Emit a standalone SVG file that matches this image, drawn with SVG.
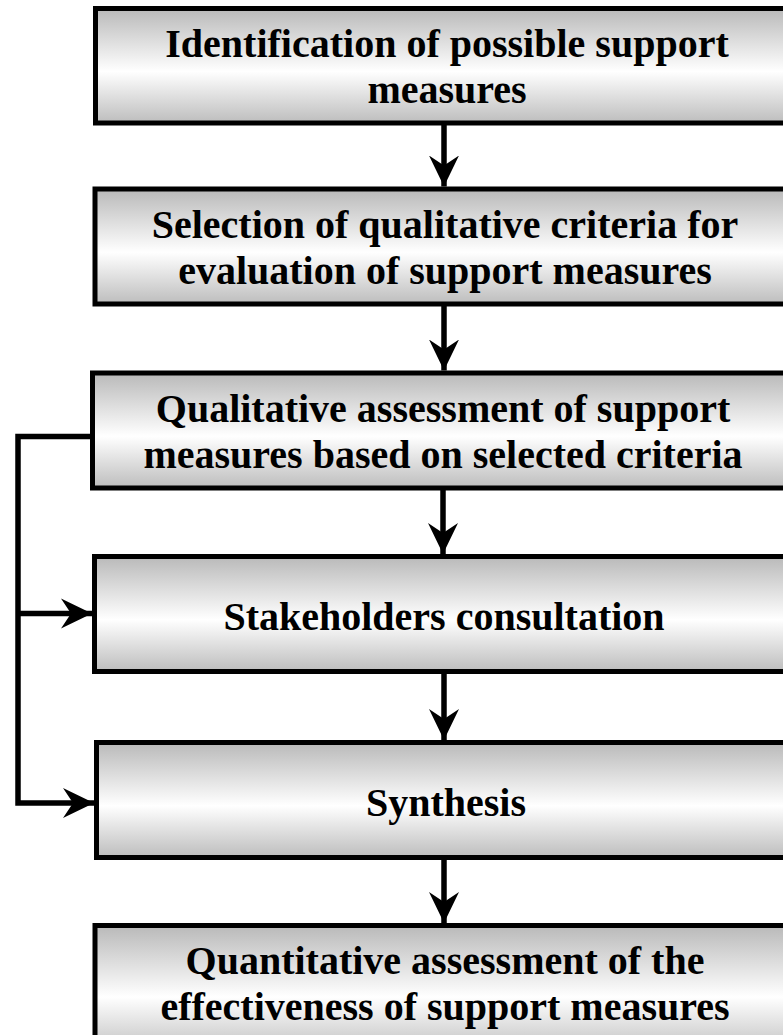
<svg xmlns="http://www.w3.org/2000/svg" width="783" height="1035" viewBox="0 0 783 1035">
<defs>
<linearGradient id="g" x1="0" y1="0" x2="0" y2="1">
<stop offset="0" stop-color="#b9b9b9"/>
<stop offset="0.55" stop-color="#ffffff"/>
<stop offset="1" stop-color="#bdbdbd"/>
</linearGradient>
<marker id="ah" markerUnits="userSpaceOnUse" markerWidth="32" markerHeight="32" viewBox="-31 -16 32 32" refX="0" refY="0" orient="auto">
<path d="M0,0 L-31,-15 L-21,0 L-31,15 Z" fill="#000"/>
</marker>
<style>
.box{fill:url(#g);stroke:#000;stroke-width:5}
.t{font-family:"Liberation Serif","Times New Roman",serif;font-weight:bold;font-size:40px;fill:#000;text-anchor:middle}
.c{fill:none;stroke:#000;stroke-width:5.5}
</style>
</defs>
<g id="n1"><rect class="box" x="95.5" y="8.5" width="720" height="114.5"/>
<text class="t" x="447" y="57">Identification of possible support</text>
<text class="t" x="447" y="103">measures</text></g>
<g id="n2"><rect class="box" x="95" y="189" width="720" height="115"/>
<text class="t" x="445" y="238">Selection of qualitative criteria for</text>
<text class="t" x="445" y="284">evaluation of support measures</text></g>
<g id="n3"><rect class="box" x="92.5" y="373" width="720" height="115"/>
<text class="t" x="443" y="422">Qualitative assessment of support</text>
<text class="t" x="443" y="468">measures based on selected criteria</text></g>
<g id="n4"><rect class="box" x="94.5" y="556.5" width="720" height="115"/>
<text class="t" x="444" y="630">Stakeholders consultation</text></g>
<g id="n5"><rect class="box" x="96.5" y="742.5" width="720" height="115"/>
<text class="t" x="446" y="816">Synthesis</text></g>
<g id="n6"><rect class="box" x="95" y="925.5" width="720" height="130"/>
<text class="t" x="445" y="974">Quantitative assessment of the</text>
<text class="t" x="445" y="1020">effectiveness of support measures</text></g>
<g id="connectors">
<line class="c" x1="444" y1="123" x2="444" y2="186.5" marker-end="url(#ah)"/>
<line class="c" x1="444" y1="304" x2="444" y2="370.5" marker-end="url(#ah)"/>
<line class="c" x1="443" y1="488" x2="443" y2="554" marker-end="url(#ah)"/>
<line class="c" x1="444" y1="671.5" x2="444" y2="740" marker-end="url(#ah)"/>
<line class="c" x1="444" y1="857.5" x2="444" y2="923" marker-end="url(#ah)"/>
<polyline class="c" points="92.5,436.5 18,436.5 18,803 94,803" marker-end="url(#ah)"/>
<line class="c" x1="18" y1="613.5" x2="92" y2="613.5" marker-end="url(#ah)"/>
</g>
</svg>
